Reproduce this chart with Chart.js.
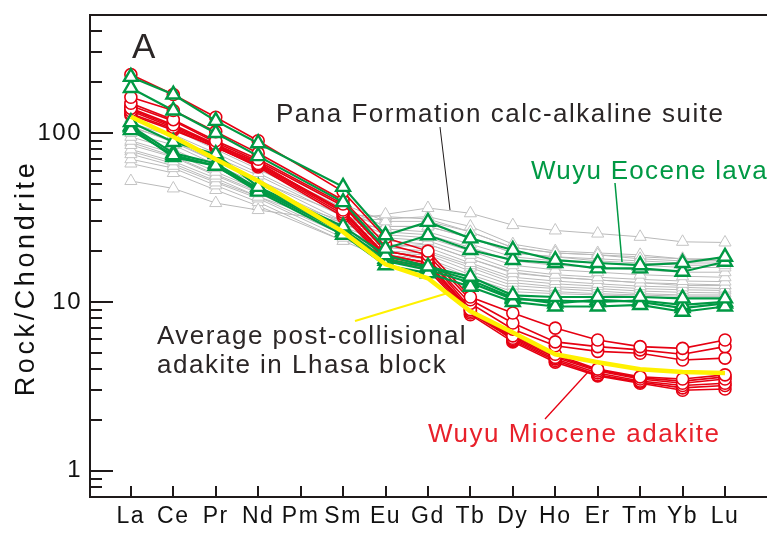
<!DOCTYPE html>
<html>
<head>
<meta charset="utf-8">
<script src="https://cdn.jsdelivr.net/npm/chart.js@4.4.1/dist/chart.umd.min.js"></script>
<style>
  html, body { margin: 0; padding: 0; background: #fff; overflow: hidden; }
  canvas { display: block; }
</style>
</head>
<body>
<canvas id="ree-chart" width="777" height="533"></canvas>
<script>
// REE spider diagram, chondrite normalised. Pm has no data (null, line spans over it).
const ELEMENTS = ['La', 'Ce', 'Pr', 'Nd', 'Pm', 'Sm', 'Eu', 'Gd', 'Tb', 'Dy', 'Ho', 'Er', 'Tm', 'Yb', 'Lu'];
const Y_TICKS = [0.8, 0.9, 1, 2, 3, 4, 5, 6, 7, 8, 9, 10, 20, 30, 40, 50, 60, 70, 80, 90, 100, 200, 300, 400];
const Y_LABELED = [1, 10, 100];

// Pana Formation calc-alkaline suite (grey)
const panaSuite = [
  [52, 47, 38.5, 35, null, 30, 33, 36, 33.5, 28.5, 26.5, 25.4, 24.3, 22.7, 22.5],
  [150, 118, 90, 68, null, 38, 30, 30, 26, 21, 19.5, 19, 18, 17.5, 17.5],
  [140, 110, 85, 64, null, 36, 28, 28, 24, 19.5, 18.5, 17.5, 17, 16.5, 16.5],
  [130, 105, 80, 61, null, 35, 27, 26, 22, 18.5, 17.5, 17, 16.5, 16, 16],
  [122, 98, 76, 58, null, 33, 26, 25, 21, 17.5, 16.5, 16, 15.5, 15, 15],
  [115, 95, 72, 56, null, 32, 25, 24, 20, 16.5, 15.5, 15, 14.5, 14.2, 14],
  [108, 90, 68, 53, null, 30, 24, 23, 19, 15.5, 14.5, 14, 13.6, 13.3, 13.2],
  [100, 85, 65, 50, null, 29, 23, 22, 18, 14.8, 14, 13.5, 13, 12.8, 12.6],
  [95, 80, 62, 48, null, 28, 22, 21, 17, 14, 13.3, 12.8, 12.4, 12.2, 12],
  [90, 76, 59, 46, null, 27, 21, 20, 16.5, 13.5, 12.8, 12.4, 12, 11.8, 11.7],
  [85, 72, 56, 44, null, 26, 20, 19.5, 16, 13, 12.3, 12, 11.6, 11.4, 11.3],
  [80, 68, 54, 42, null, 25, 19.5, 19, 15.2, 12.5, 12, 11.6, 11.2, 11, 11],
  [75, 64, 51, 41, null, 24, 19, 18, 14.5, 12, 11.5, 11.2, 11, 10.8, 10.8],
  [70, 62, 49, 39, null, 23, 18, 17.5, 14, 11.5, 11.2, 11, 10.8, 10.5, 10.5],
  [66, 58, 46, 37, null, 23, 21, 22, 18, 15, 14, 13.5, 13, 12.5, 12.5],
  [88, 73, 57, 45, null, 30, 31, 32, 28, 22, 20, 19.5, 19, 18, 18],
  [110, 88, 68, 52, null, 33, 32, 31, 26, 21, 19.5, 19, 18.5, 18, 17.5],
  [78, 66, 52, 42, null, 28, 28, 28, 24, 19.5, 18.5, 18, 17.5, 17, 17],
];

// Wuyu Eocene lava (green)
const eoceneLava = [
  [215, 169, 118, 87, null, 48, 24.8, 29.8, 23.8, 20.3, 17.7, 17, 16.5, 17, 18.5],
  [185, 136, 100, 73, null, 39, 20.7, 24.8, 20.3, 17.7, 17, 15.8, 15.8, 15.1, 17.3],
  [116, 88.5, 75, 48, null, 28, 18.9, 16.2, 14.1, 10.95, 10.7, 10.7, 10.7, 10.5, 10.5],
  [104, 74, 64, 45, null, 25, 16.5, 14.8, 12.3, 10, 9.4, 9.4, 9.6, 8.75, 9.4],
  [108, 72, 64, 46, null, 26, 17.5, 15.5, 13, 10.4, 10.2, 10, 10.2, 9.6, 10],
  [110, 76, 66, 47, null, 27, 18, 16, 13.5, 10.6, 9.8, 10.3, 10, 9.2, 9.8],
];

// Wuyu Miocene adakite (red)
const mioceneAdakite = [
  [222, 169, 124, 90, null, 45, 24, 20, 10.7, 8.6, 7.0, 5.95, 5.44, 5.31, 5.95],
  [163, 136, 102, 76, null, 40, 22, 19, 10.3, 7.5, 5.8, 5.44, 5.2, 4.9, 5.44],
  [150, 120, 90, 70, null, 38, 20, 18, 9.8, 6.9, 5.5, 5.1, 4.97, 4.53, 4.65],
  [140, 112, 86, 66, null, 35, 19, 17, 9.0, 6.3, 4.9, 4.0, 3.6, 3.5, 3.7],
  [135, 108, 84, 65, null, 34, 18.5, 16.5, 8.8, 6.1, 4.7, 3.9, 3.5, 3.3, 3.5],
  [130, 106, 82, 64, null, 33, 18, 16, 8.6, 6.0, 4.6, 3.8, 3.4, 3.2, 3.3],
  [145, 118, 88, 68, null, 37, 20, 18, 9.2, 5.9, 4.5, 3.7, 3.35, 3.1, 3.2],
  [128, 104, 83, 63, null, 32, 17.7, 15.5, 8.4, 5.8, 4.4, 3.65, 3.3, 3.0, 3.05],
  [138, 110, 85, 67, null, 34, 19, 17, 8.9, 6.2, 4.8, 3.95, 3.55, 3.4, 3.6],
];

// Average post-collisional adakite in Lhasa block (yellow)
const lhasaAverage = [125, 95, 70, 52, null, 26, 16.7, 13.8, 8.8, 6.6, 4.9, 4.4, 4.0, 3.85, 3.8];

const AXIS_COLOR = '#1f1a1a';
const TEXT_COLOR = '#2b2626';
const GREY = '#b9b9b9';
const GREEN = '#009944';
const RED = '#e60012';
const YELLOW = '#fff100';
const FONT = '"Liberation Sans", Arial, sans-serif';

function greyDataset(values) {
  return {
    data: values, spanGaps: true, order: 3,
    borderColor: GREY, borderWidth: 1,
    pointStyle: 'triangle', pointRadius: 7,
    pointBorderColor: '#c4c4c4', pointBorderWidth: 1, pointBackgroundColor: '#ffffff',
  };
}

function greenDataset(values) {
  return {
    data: values, spanGaps: true, order: 1,
    borderColor: GREEN, borderWidth: 2.2,
    pointStyle: 'triangle', pointRadius: 8,
    pointBorderColor: GREEN, pointBorderWidth: 2.4, pointBackgroundColor: '#ffffff',
  };
}

function redDataset(values) {
  return {
    data: values, spanGaps: true, order: 2,
    borderColor: RED, borderWidth: 1.6,
    pointStyle: 'circle', pointRadius: 6,
    pointBorderColor: RED, pointBorderWidth: 1.6, pointBackgroundColor: '#ffffff',
  };
}

const datasets = [
  { data: lhasaAverage, spanGaps: true, order: 0, borderColor: YELLOW, borderWidth: 4.5, pointRadius: 0 },
  ...eoceneLava.map(greenDataset),
  ...mioceneAdakite.map(redDataset),
  ...panaSuite.map(greyDataset),
];

// slightly tracked axis labels, like the original figure
const tracking = {
  id: 'tracking',
  beforeDraw(chart) {
    chart.ctx.save();
    chart.ctx.letterSpacing = '1.5px';
  },
  afterDraw(chart) {
    chart.ctx.restore();
  },
};

// tick marks point into the plot, long ones at the labelled decades
const insideTicks = {
  id: 'insideTicks',
  beforeDatasetsDraw(chart) {
    const { ctx, chartArea, scales } = chart;
    ctx.save();
    ctx.strokeStyle = AXIS_COLOR;
    ctx.lineWidth = 2;
    ctx.beginPath();
    scales.y.ticks.forEach((t) => {
      const py = Math.round(scales.y.getPixelForValue(t.value));
      const len = Y_LABELED.includes(t.value) ? 23 : 12;
      ctx.moveTo(chartArea.left, py);
      ctx.lineTo(chartArea.left + len, py);
    });
    scales.x.ticks.forEach((t) => {
      const px = Math.round(scales.x.getPixelForValue(t.value));
      ctx.moveTo(px, chartArea.bottom);
      ctx.lineTo(px, chartArea.bottom - 11);
    });
    ctx.stroke();
    ctx.restore();
  },
};

function leader(ctx, color, width, x1, y1, x2, y2) {
  ctx.strokeStyle = color;
  ctx.lineWidth = width;
  ctx.beginPath();
  ctx.moveTo(x1, y1);
  ctx.lineTo(x2, y2);
  ctx.stroke();
}

function label(ctx, text, color, size, x, y, spacing) {
  ctx.font = `${size}px ${FONT}`;
  ctx.fillStyle = color;
  ctx.letterSpacing = `${spacing}px`;
  ctx.fillText(text, x, y);
}

const annotations = {
  id: 'annotations',
  afterDraw(chart) {
    const { ctx } = chart;
    ctx.save();
    ctx.textAlign = 'left';
    ctx.textBaseline = 'alphabetic';

    leader(ctx, AXIS_COLOR, 1, 440, 127, 450, 210);
    leader(ctx, GREEN, 1.5, 615, 183, 622, 262);
    leader(ctx, YELLOW, 2, 355, 321, 448, 293);
    leader(ctx, RED, 1.3, 545, 419, 588, 372);

    label(ctx, 'A', TEXT_COLOR, 35, 132, 58, 0);
    label(ctx, 'Pana Formation calc-alkaline suite', TEXT_COLOR, 26, 276, 122, 1.5);
    label(ctx, 'Wuyu Eocene lava', GREEN, 26, 531, 179, 1.3);
    label(ctx, 'Average post-collisional', TEXT_COLOR, 26, 157, 344, 1.5);
    label(ctx, 'adakite in Lhasa block', TEXT_COLOR, 26, 157, 373, 1.5);
    label(ctx, 'Wuyu Miocene adakite', '#e8212b', 26, 428, 442, 1.5);

    // y axis title
    ctx.translate(34, 278);
    ctx.rotate(-Math.PI / 2);
    ctx.textAlign = 'center';
    label(ctx, 'Rock/Chondrite', '#111', 27, 0, 0, 3.6);
    ctx.restore();
  },
};

const ctx = document.getElementById('ree-chart');
window.reeChart = new Chart(ctx, {
  type: 'line',
  data: { labels: ELEMENTS.map((_, i) => i), datasets },
  options: {
    responsive: false,
    animation: false,
    devicePixelRatio: 1,
    layout: { padding: 0 },
    plugins: { legend: { display: false }, tooltip: { enabled: false } },
    elements: { line: { tension: 0 } },
    scales: {
      x: {
        type: 'linear', min: -0.963, max: 14.98, bounds: 'data',
        grid: { display: false, drawTicks: false },
        border: { display: true, color: AXIS_COLOR, width: 2 },
        ticks: {
          autoSkip: false, maxRotation: 0, padding: 6, color: '#111',
          font: { family: FONT, size: 23 },
          callback: (v) => ELEMENTS[v] ?? '',
        },
        afterBuildTicks: (scale) => { scale.ticks = ELEMENTS.map((_, i) => ({ value: i })); },
        afterFit: (scale) => {
          scale.height = 36;
          scale.paddingLeft = 0;
          scale.paddingRight = 0;
        },
      },
      xTop: {
        type: 'linear', position: 'top', min: -0.963, max: 14.98,
        grid: { display: false, drawTicks: false },
        border: { display: true, color: AXIS_COLOR, width: 2 },
        ticks: { display: false },
        afterFit: (scale) => {
          scale.height = 15;
          scale.paddingLeft = 0;
          scale.paddingRight = 0;
        },
      },
      y: {
        type: 'logarithmic', min: 0.7, max: 500, bounds: 'data',
        grid: { display: false, drawTicks: false },
        border: { display: true, color: AXIS_COLOR, width: 2 },
        ticks: {
          autoSkip: false, padding: 8, color: '#111',
          font: { family: FONT, size: 24 },
          callback: (v) => (Y_LABELED.includes(v) ? String(v) : ''),
        },
        afterBuildTicks: (scale) => { scale.ticks = Y_TICKS.map((v) => ({ value: v })); },
        afterFit: (scale) => {
          scale.width = 90;
          scale.paddingTop = 0;
          scale.paddingBottom = 0;
        },
      },
    },
  },
  plugins: [tracking, insideTicks, annotations],
});
</script>
</body>
</html>
